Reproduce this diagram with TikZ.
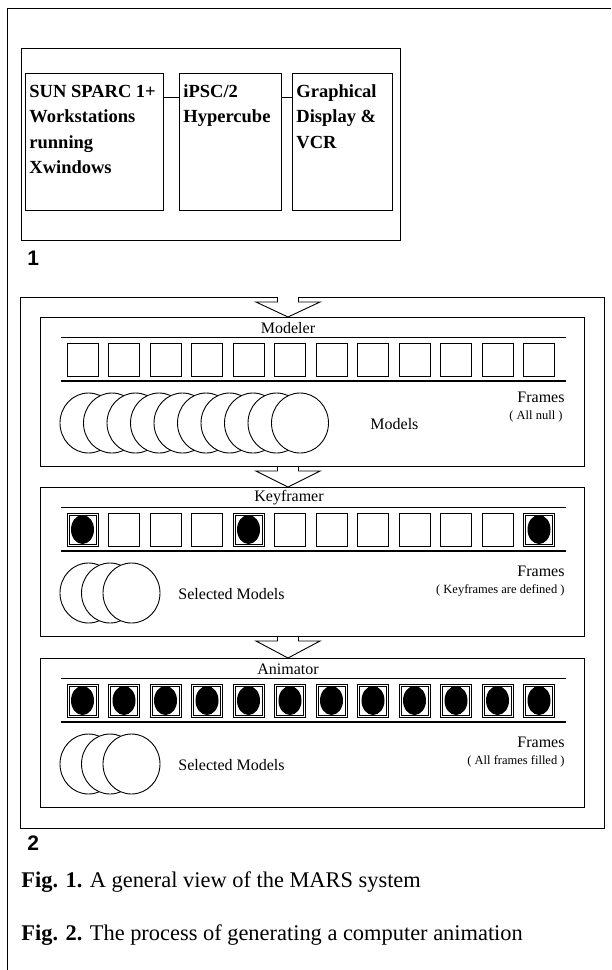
\documentclass[tikz,border=0pt]{standalone}
\usepackage{fontspec}
\setmainfont{Liberation Serif}
\newfontfamily\labsans{Liberation Sans}
\usetikzlibrary{shapes.geometric}
\begin{document}
\begin{tikzpicture}[x=1pt,y=-1pt,line width=0.9pt,
  hwbox/.style={draw,anchor=north west,inner sep=0pt,minimum height=137pt},
  hwtext/.style={anchor=base west,inner sep=0pt,font=\bfseries\fontsize{18.5}{22}\selectfont},
  stagebox/.style={draw,anchor=north west,inner sep=0pt,minimum width=544pt,minimum height=149pt},
  stagetitle/.style={inner sep=0pt,font=\fontsize{16}{19}\selectfont},
  lbl/.style={inner sep=0pt,font=\fontsize{16}{19}\selectfont},
  smalllbl/.style={inner sep=0pt,anchor=east,font=\fontsize{12.5}{14}\selectfont},
  numlbl/.style={inner sep=0pt,anchor=west,font=\labsans\bfseries\fontsize{21}{24}\selectfont},
  captext/.style={inner sep=0pt,anchor=base west,font=\fontsize{22.4}{26}\selectfont},
  sq/.style={draw,inner sep=0pt,minimum width=31pt,minimum height=33pt},
  model/.style={draw,fill=white,ellipse,inner sep=0pt,minimum width=57pt,minimum height=60pt}]
\useasboundingbox (0,0) rectangle (611,970);
% page frame
\draw (7,970) -- (7,8) -- (611,8);

% ---------- Fig 1 ----------
\node[draw,anchor=north west,inner sep=0pt,minimum width=379pt,minimum height=192pt] (f1) at (21,48) {};
\node[hwbox,minimum width=138pt] (b1) at (25,73) {};
\node[hwbox,minimum width=102pt] (b2) at (179,73) {};
\node[hwbox,minimum width=100pt] (b3) at (292,73) {};
\draw ([yshift=-24pt]b1.north east) -- ([yshift=-24pt]b2.north west);
\draw ([yshift=-24pt]b2.north east) -- ([yshift=-24pt]b3.north west);
\node[hwtext] (t1a) at (29,97) {SUN SPARC 1+};
\node[hwtext] (t1b) at (29,122.5) {Workstations};
\node[hwtext] (t1c) at (29,148) {running};
\node[hwtext] (t1d) at (29,173.5) {Xwindows};
\node[hwtext] (t2a) at (183,97) {iPSC/2};
\node[hwtext] (t2b) at (183,122.5) {Hypercube};
\node[hwtext] (t3a) at (296,97) {Graphical};
\node[hwtext] (t3b) at (296,122.5) {Display \&};
\node[hwtext] (t3c) at (296,148) {VCR};
\node[numlbl] (n1) at (27,258) {1};

% ---------- Fig 2 ----------
\node[draw,anchor=north west,inner sep=0pt,minimum width=584pt,minimum height=531pt] (f2) at (20,297) {};

% arrows
\foreach \top/\tip in {297/317,466/487,636/658}{
  \draw[fill=white] (277.5,\top) -- (277.5,\top+5) -- (256,\top+5) -- (288,\tip)
     -- (320,\top+5) -- (298.5,\top+5) -- (298.5,\top);
}

% stage boxes
\node[stagebox] (mod) at (40,317) {};
\node[stagebox] (key) at (40,487) {};
\node[stagebox] (ani) at (40,658) {};

\node[stagetitle] (modt) at (288,328) {Modeler};
\node[stagetitle] (keyt) at (289,498) {Keyframer};
\node[stagetitle] (anit) at (288,669) {Animator};

\foreach \T/\nm in {317/m,487/k,658/a}{
  \draw (61,\T+20) -- (566,\T+20);
  \draw[line width=1.2pt] (61,\T+64) -- (566,\T+64);
  \foreach \i in {1,...,12}{
    \node[sq] (\nm\i) at ({82.5+41.5*(\i-1)},\T+42.5) {};
  }
}
% filled frames
\foreach \nm/\lst in {k/{1,5,12},a/{1,2,3,4,5,6,7,8,9,10,11,12}}{
  \foreach \i in \lst{
    \draw[line width=0.7pt] ([xshift=2.5pt,yshift=2.5pt]\nm\i.south west) rectangle ([xshift=-2.5pt,yshift=-2.5pt]\nm\i.north east);
    \fill (\nm\i.center) ellipse [x radius=11.5pt,y radius=14.5pt];
  }
}

% models
\foreach \k in {0,...,9}{
  \node[model] (mc\k) at ({88.5+23.5*\k},423) {};
}
\foreach \k in {0,1,2}{
  \node[model] (kc\k) at ({88.5+21.5*\k},593) {};
  \node[model] (ac\k) at ({88.5+21.5*\k},764) {};
}

% labels
\node[lbl,anchor=east] (mf) at (565,397) {Frames};
\node[smalllbl] (mn) at (563,416) {( All null )};
\node[lbl,anchor=west] (mm) at (370,424) {Models};

\node[lbl,anchor=east] (kf) at (565,571) {Frames};
\node[smalllbl] (kn) at (565,590) {( Keyframes are defined )};
\node[lbl,anchor=west] (km) at (178,594) {Selected Models};

\node[lbl,anchor=east] (af) at (565,742) {Frames};
\node[smalllbl] (an) at (565,761) {( All frames filled )};
\node[lbl,anchor=west] (am) at (178,765) {Selected Models};

\node[numlbl] (n2) at (27,843) {2};

% captions
\node[captext] (c1) at (21,887) {\textbf{Fig. 1.} A general view of the MARS system};
\node[captext] (c2) at (21,940) {\textbf{Fig. 2.} The process of generating a computer animation};
\end{tikzpicture}
\end{document}
